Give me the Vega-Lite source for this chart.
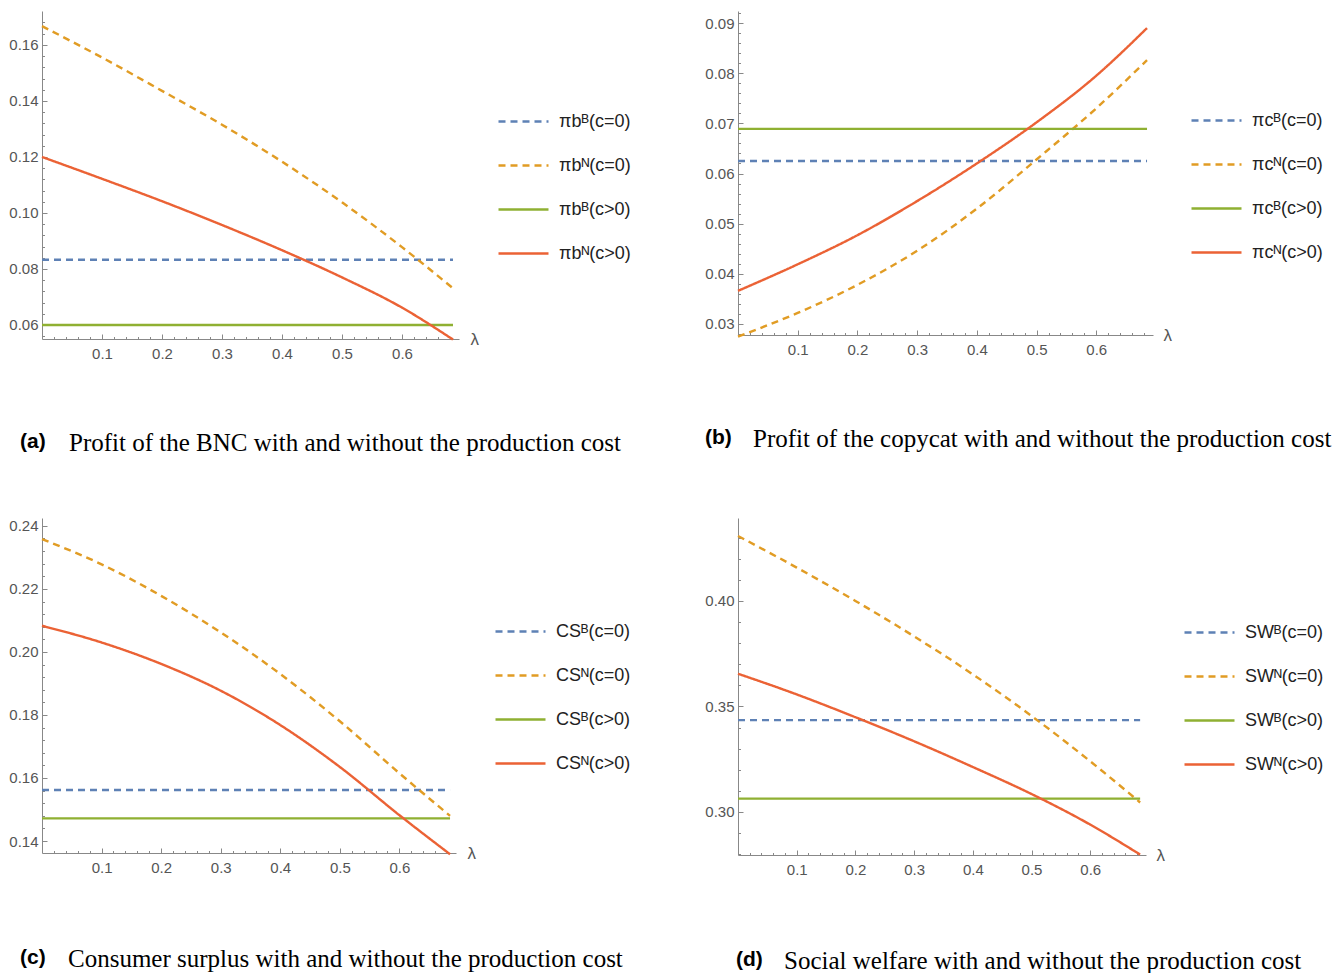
{
  "$schema": "https://vega.github.io/schema/vega-lite/v6.json",
  "padding": {"left": 8, "top": 6, "right": 0, "bottom": 0},
  "background": "white",
  "config": {
    "view": {"stroke": null},
    "axis": {"grid": false, "domainColor": "#888", "tickColor": "#888", "labelColor": "#555", "labelFont": "Liberation Sans", "labelFontSize": 15, "labelOverlap": false, "labelFlush": false, "labelBound": false},
    "legend": {"title": null, "orient": "none", "symbolType": "M-2,0H2", "symbolSize": 625, "symbolStrokeWidth": 2.3, "labelFont": "Liberation Sans", "labelFontSize": 18, "labelColor": "#222", "labelOffset": 21.5, "rowPadding": 21, "padding": 0},
    "title": {"orient": "bottom", "anchor": "start", "frame": "group", "offset": 67, "font": "Liberation Sans", "fontSize": 21, "fontWeight": "bold", "color": "#000"}
  },
  "columns": 2,
  "spacing": {"row": 62, "column": 72},
  "resolve": {"scale": {"color": "independent", "strokeDash": "independent"}},
  "concat": [
    {
      "title": {"text": "Profit of the BNC with and without the production cost", "font": "Liberation Serif", "fontSize": 25, "fontWeight": "normal", "dx": 27, "dy": -21, "offset": 0},
      "vconcat": [{
      "width": 417, "height": 328,
      "title": {"text": "(a)", "dx": -22},
      "data": {"values": [
        {"s": "πbᴮ(c=0)", "lam": 0, "v": 0.0833}, {"s": "πbᴮ(c=0)", "lam": 0.685, "v": 0.0833},
        {"s": "πbᴺ(c=0)", "lam": 0, "v": 0.1667}, {"s": "πbᴺ(c=0)", "lam": 0.1, "v": 0.1555}, {"s": "πbᴺ(c=0)", "lam": 0.2, "v": 0.1436}, {"s": "πbᴺ(c=0)", "lam": 0.3, "v": 0.1315}, {"s": "πbᴺ(c=0)", "lam": 0.4, "v": 0.1183}, {"s": "πbᴺ(c=0)", "lam": 0.5, "v": 0.1038}, {"s": "πbᴺ(c=0)", "lam": 0.6, "v": 0.0878}, {"s": "πbᴺ(c=0)", "lam": 0.685, "v": 0.0731},
        {"s": "πbᴮ(c>0)", "lam": 0, "v": 0.06}, {"s": "πbᴮ(c>0)", "lam": 0.685, "v": 0.06},
        {"s": "πbᴺ(c>0)", "lam": 0, "v": 0.1200}, {"s": "πbᴺ(c>0)", "lam": 0.1, "v": 0.1122}, {"s": "πbᴺ(c>0)", "lam": 0.2, "v": 0.1042}, {"s": "πbᴺ(c>0)", "lam": 0.3, "v": 0.0957}, {"s": "πbᴺ(c>0)", "lam": 0.4, "v": 0.0867}, {"s": "πbᴺ(c>0)", "lam": 0.5, "v": 0.0770}, {"s": "πbᴺ(c>0)", "lam": 0.6, "v": 0.0662}, {"s": "πbᴺ(c>0)", "lam": 0.685, "v": 0.0548}
      ]},
      "mark": {"type": "line", "interpolate": "monotone", "strokeWidth": 2.4},
      "encoding": {
        "x": {"field": "lam", "type": "quantitative", "scale": {"domain": [0, 0.695], "nice": false, "zero": false},
          "axis": {"title": "λ", "titleX": 428, "titleY": 0, "titleAlign": "left", "titleBaseline": "middle", "titleAngle": 0, "titleFont": "Liberation Sans", "titleFontSize": 17, "titleFontWeight": "normal", "titleColor": "#555",
            "values": [0.02,0.04,0.06,0.08,0.1,0.12,0.14,0.16,0.18,0.2,0.22,0.24,0.26,0.28,0.3,0.32,0.34,0.36,0.38,0.4,0.42,0.44,0.46,0.48,0.5,0.52,0.54,0.56,0.58,0.6,0.62,0.64,0.66,0.68],
            "labelExpr": "abs(datum.value*10-round(datum.value*10))<0.001 ? format(datum.value,'.1f') : ''",
            "tickSize": {"condition": {"test": "abs(datum.value*10-round(datum.value*10))<0.001", "value": -5}, "value": -2.5},
            "labelPadding": 12}},
        "y": {"field": "v", "type": "quantitative", "scale": {"domain": [0.055, 0.1721], "nice": false, "zero": false},
          "axis": {"title": null,
            "values": [0.056,0.06,0.064,0.068,0.072,0.076,0.08,0.084,0.088,0.092,0.096,0.1,0.104,0.108,0.112,0.116,0.12,0.124,0.128,0.132,0.136,0.14,0.144,0.148,0.152,0.156,0.16,0.164,0.168],
            "labelExpr": "abs(datum.value*50-round(datum.value*50))<0.001 ? format(datum.value,'.2f') : ''",
            "tickSize": {"condition": {"test": "abs(datum.value*50-round(datum.value*50))<0.001", "value": -5}, "value": -2.5},
            "labelPadding": 9}},
        "color": {"field": "s", "type": "nominal", "scale": {"domain": ["πbᴮ(c=0)", "πbᴺ(c=0)", "πbᴮ(c>0)", "πbᴺ(c>0)"], "range": ["#5E81B5", "#E19C24", "#8FB032", "#EB6235"]},
          "legend": {"legendX": 467.5, "legendY": 96.5}},
        "strokeDash": {"field": "s", "type": "nominal", "scale": {"domain": ["πbᴮ(c=0)", "πbᴺ(c=0)", "πbᴮ(c>0)", "πbᴺ(c>0)"], "range": [[7,5],[7,5],[1,0],[1,0]]},
          "legend": {"legendX": 467.5, "legendY": 96.5}}
      }
      }]
    },
    {
      "title": {"text": "Profit of the copycat with and without the production cost", "font": "Liberation Serif", "fontSize": 25, "fontWeight": "normal", "dx": 15, "dy": -21, "offset": 0},
      "vconcat": [{
      "width": 415, "height": 324,
      "title": {"text": "(b)", "dx": -33},
      "data": {"values": [
        {"s": "πcᴮ(c=0)", "lam": 0, "v": 0.0625}, {"s": "πcᴮ(c=0)", "lam": 0.685, "v": 0.0625},
        {"s": "πcᴺ(c=0)", "lam": 0, "v": 0.0275}, {"s": "πcᴺ(c=0)", "lam": 0.1, "v": 0.0322}, {"s": "πcᴺ(c=0)", "lam": 0.2, "v": 0.0378}, {"s": "πcᴺ(c=0)", "lam": 0.3, "v": 0.0446}, {"s": "πcᴺ(c=0)", "lam": 0.4, "v": 0.0530}, {"s": "πcᴺ(c=0)", "lam": 0.5, "v": 0.0628}, {"s": "πcᴺ(c=0)", "lam": 0.6, "v": 0.0730}, {"s": "πcᴺ(c=0)", "lam": 0.685, "v": 0.0826},
        {"s": "πcᴮ(c>0)", "lam": 0, "v": 0.0689}, {"s": "πcᴮ(c>0)", "lam": 0.685, "v": 0.0689},
        {"s": "πcᴺ(c>0)", "lam": 0, "v": 0.0366}, {"s": "πcᴺ(c>0)", "lam": 0.1, "v": 0.0419}, {"s": "πcᴺ(c>0)", "lam": 0.2, "v": 0.0477}, {"s": "πcᴺ(c>0)", "lam": 0.3, "v": 0.0545}, {"s": "πcᴺ(c>0)", "lam": 0.4, "v": 0.0620}, {"s": "πcᴺ(c>0)", "lam": 0.5, "v": 0.0702}, {"s": "πcᴺ(c>0)", "lam": 0.6, "v": 0.0795}, {"s": "πcᴺ(c>0)", "lam": 0.685, "v": 0.0890}
      ]},
      "mark": {"type": "line", "interpolate": "monotone", "strokeWidth": 2.4},
      "encoding": {
        "x": {"field": "lam", "type": "quantitative", "scale": {"domain": [0, 0.695], "nice": false, "zero": false},
          "axis": {"title": "λ", "titleX": 425, "titleY": 0, "titleAlign": "left", "titleBaseline": "middle", "titleAngle": 0, "titleFont": "Liberation Sans", "titleFontSize": 17, "titleFontWeight": "normal", "titleColor": "#555",
            "values": [0.02,0.04,0.06,0.08,0.1,0.12,0.14,0.16,0.18,0.2,0.22,0.24,0.26,0.28,0.3,0.32,0.34,0.36,0.38,0.4,0.42,0.44,0.46,0.48,0.5,0.52,0.54,0.56,0.58,0.6,0.62,0.64,0.66,0.68],
            "labelExpr": "abs(datum.value*10-round(datum.value*10))<0.001 ? format(datum.value,'.1f') : ''",
            "tickSize": {"condition": {"test": "abs(datum.value*10-round(datum.value*10))<0.001", "value": -5}, "value": -2.5},
            "labelPadding": 12}},
        "y": {"field": "v", "type": "quantitative", "scale": {"domain": [0.0278, 0.0924], "nice": false, "zero": false},
          "axis": {"title": null,
            "values": [0.028,0.03,0.032,0.034,0.036,0.038,0.04,0.042,0.044,0.046,0.048,0.05,0.052,0.054,0.056,0.058,0.06,0.062,0.064,0.066,0.068,0.07,0.072,0.074,0.076,0.078,0.08,0.082,0.084,0.086,0.088,0.09,0.092],
            "labelExpr": "abs(datum.value*100-round(datum.value*100))<0.001 ? format(datum.value,'.2f') : ''",
            "tickSize": {"condition": {"test": "abs(datum.value*100-round(datum.value*100))<0.001", "value": -5}, "value": -2.5},
            "labelPadding": 9}},
        "color": {"field": "s", "type": "nominal", "scale": {"domain": ["πcᴮ(c=0)", "πcᴺ(c=0)", "πcᴮ(c>0)", "πcᴺ(c>0)"], "range": ["#5E81B5", "#E19C24", "#8FB032", "#EB6235"]},
          "legend": {"legendX": 464.5, "legendY": 95.5}},
        "strokeDash": {"field": "s", "type": "nominal", "scale": {"domain": ["πcᴮ(c=0)", "πcᴺ(c=0)", "πcᴮ(c>0)", "πcᴺ(c>0)"], "range": [[7,5],[7,5],[1,0],[1,0]]},
          "legend": {"legendX": 464.5, "legendY": 95.5}}
      }
      }]
    },
    {
      "title": {"text": "Consumer surplus with and without the production cost", "font": "Liberation Serif", "fontSize": 25, "fontWeight": "normal", "dx": 26, "dy": -21, "offset": 0},
      "vconcat": [{
      "width": 414, "height": 335,
      "title": {"text": "(c)", "dx": -22, "offset": 69},
      "data": {"values": [
        {"s": "CSᴮ(c=0)", "lam": 0, "v": 0.1562}, {"s": "CSᴮ(c=0)", "lam": 0.685, "v": 0.1562},
        {"s": "CSᴺ(c=0)", "lam": 0, "v": 0.2358}, {"s": "CSᴺ(c=0)", "lam": 0.1, "v": 0.2278}, {"s": "CSᴺ(c=0)", "lam": 0.2, "v": 0.2178}, {"s": "CSᴺ(c=0)", "lam": 0.3, "v": 0.2062}, {"s": "CSᴺ(c=0)", "lam": 0.4, "v": 0.1930}, {"s": "CSᴺ(c=0)", "lam": 0.5, "v": 0.1780}, {"s": "CSᴺ(c=0)", "lam": 0.6, "v": 0.1615}, {"s": "CSᴺ(c=0)", "lam": 0.685, "v": 0.1480},
        {"s": "CSᴮ(c>0)", "lam": 0, "v": 0.1472}, {"s": "CSᴮ(c>0)", "lam": 0.685, "v": 0.1472},
        {"s": "CSᴺ(c>0)", "lam": 0, "v": 0.2083}, {"s": "CSᴺ(c>0)", "lam": 0.1, "v": 0.2030}, {"s": "CSᴺ(c>0)", "lam": 0.2, "v": 0.1962}, {"s": "CSᴺ(c>0)", "lam": 0.3, "v": 0.1877}, {"s": "CSᴺ(c>0)", "lam": 0.4, "v": 0.1768}, {"s": "CSᴺ(c>0)", "lam": 0.5, "v": 0.1635}, {"s": "CSᴺ(c>0)", "lam": 0.6, "v": 0.1482}, {"s": "CSᴺ(c>0)", "lam": 0.685, "v": 0.1358}
      ]},
      "mark": {"type": "line", "interpolate": "monotone", "strokeWidth": 2.4},
      "encoding": {
        "x": {"field": "lam", "type": "quantitative", "scale": {"domain": [0, 0.695], "nice": false, "zero": false},
          "axis": {"title": "λ", "titleX": 425, "titleY": 0, "titleAlign": "left", "titleBaseline": "middle", "titleAngle": 0, "titleFont": "Liberation Sans", "titleFontSize": 17, "titleFontWeight": "normal", "titleColor": "#555",
            "values": [0.02,0.04,0.06,0.08,0.1,0.12,0.14,0.16,0.18,0.2,0.22,0.24,0.26,0.28,0.3,0.32,0.34,0.36,0.38,0.4,0.42,0.44,0.46,0.48,0.5,0.52,0.54,0.56,0.58,0.6,0.62,0.64,0.66,0.68],
            "labelExpr": "abs(datum.value*10-round(datum.value*10))<0.001 ? format(datum.value,'.1f') : ''",
            "tickSize": {"condition": {"test": "abs(datum.value*10-round(datum.value*10))<0.001", "value": -5}, "value": -2.5},
            "labelPadding": 12}},
        "y": {"field": "v", "type": "quantitative", "scale": {"domain": [0.1362, 0.2425], "nice": false, "zero": false},
          "axis": {"title": null,
            "values": [0.14,0.144,0.148,0.152,0.156,0.16,0.164,0.168,0.172,0.176,0.18,0.184,0.188,0.192,0.196,0.2,0.204,0.208,0.212,0.216,0.22,0.224,0.228,0.232,0.236,0.24],
            "labelExpr": "abs(datum.value*50-round(datum.value*50))<0.001 ? format(datum.value,'.2f') : ''",
            "tickSize": {"condition": {"test": "abs(datum.value*50-round(datum.value*50))<0.001", "value": -5}, "value": -2.5},
            "labelPadding": 9}},
        "color": {"field": "s", "type": "nominal", "scale": {"domain": ["CSᴮ(c=0)", "CSᴺ(c=0)", "CSᴮ(c>0)", "CSᴺ(c>0)"], "range": ["#5E81B5", "#E19C24", "#8FB032", "#EB6235"]},
          "legend": {"legendX": 464.5, "legendY": 99.5}},
        "strokeDash": {"field": "s", "type": "nominal", "scale": {"domain": ["CSᴮ(c=0)", "CSᴺ(c=0)", "CSᴮ(c>0)", "CSᴺ(c>0)"], "range": [[7,5],[7,5],[1,0],[1,0]]},
          "legend": {"legendX": 464.5, "legendY": 99.5}}
      }
      }]
    },
    {
      "title": {"text": "Social welfare with and without the production cost", "font": "Liberation Serif", "fontSize": 25, "fontWeight": "normal", "dx": 46, "dy": -21, "offset": 0},
      "vconcat": [{
      "width": 408, "height": 337,
      "title": {"text": "(d)", "dx": -2, "offset": 69},
      "data": {"values": [
        {"s": "SWᴮ(c=0)", "lam": 0, "v": 0.3435}, {"s": "SWᴮ(c=0)", "lam": 0.685, "v": 0.3435},
        {"s": "SWᴺ(c=0)", "lam": 0, "v": 0.4308}, {"s": "SWᴺ(c=0)", "lam": 0.1, "v": 0.4158}, {"s": "SWᴺ(c=0)", "lam": 0.2, "v": 0.4000}, {"s": "SWᴺ(c=0)", "lam": 0.3, "v": 0.3832}, {"s": "SWᴺ(c=0)", "lam": 0.4, "v": 0.3652}, {"s": "SWᴺ(c=0)", "lam": 0.5, "v": 0.3455}, {"s": "SWᴺ(c=0)", "lam": 0.6, "v": 0.3240}, {"s": "SWᴺ(c=0)", "lam": 0.685, "v": 0.3045},
        {"s": "SWᴮ(c>0)", "lam": 0, "v": 0.3063}, {"s": "SWᴮ(c>0)", "lam": 0.685, "v": 0.3063},
        {"s": "SWᴺ(c>0)", "lam": 0, "v": 0.3655}, {"s": "SWᴺ(c>0)", "lam": 0.1, "v": 0.3557}, {"s": "SWᴺ(c>0)", "lam": 0.2, "v": 0.3449}, {"s": "SWᴺ(c>0)", "lam": 0.3, "v": 0.3335}, {"s": "SWᴺ(c>0)", "lam": 0.4, "v": 0.3213}, {"s": "SWᴺ(c>0)", "lam": 0.5, "v": 0.3085}, {"s": "SWᴺ(c>0)", "lam": 0.6, "v": 0.2940}, {"s": "SWᴺ(c>0)", "lam": 0.685, "v": 0.2798}
      ]},
      "mark": {"type": "line", "interpolate": "monotone", "strokeWidth": 2.4},
      "encoding": {
        "x": {"field": "lam", "type": "quantitative", "scale": {"domain": [0, 0.695], "nice": false, "zero": false},
          "axis": {"title": "λ", "titleX": 418, "titleY": 0, "titleAlign": "left", "titleBaseline": "middle", "titleAngle": 0, "titleFont": "Liberation Sans", "titleFontSize": 17, "titleFontWeight": "normal", "titleColor": "#555",
            "values": [0.02,0.04,0.06,0.08,0.1,0.12,0.14,0.16,0.18,0.2,0.22,0.24,0.26,0.28,0.3,0.32,0.34,0.36,0.38,0.4,0.42,0.44,0.46,0.48,0.5,0.52,0.54,0.56,0.58,0.6,0.62,0.64,0.66,0.68],
            "labelExpr": "abs(datum.value*10-round(datum.value*10))<0.001 ? format(datum.value,'.1f') : ''",
            "tickSize": {"condition": {"test": "abs(datum.value*10-round(datum.value*10))<0.001", "value": -5}, "value": -2.5},
            "labelPadding": 12}},
        "y": {"field": "v", "type": "quantitative", "scale": {"domain": [0.2796, 0.4393], "nice": false, "zero": false},
          "axis": {"title": null,
            "values": [0.28,0.29,0.3,0.31,0.32,0.33,0.34,0.35,0.36,0.37,0.38,0.39,0.4,0.41,0.42,0.43],
            "labelExpr": "abs(datum.value*20-round(datum.value*20))<0.001 ? format(datum.value,'.2f') : ''",
            "tickSize": {"condition": {"test": "abs(datum.value*20-round(datum.value*20))<0.001", "value": -5}, "value": -2.5},
            "labelPadding": 9}},
        "color": {"field": "s", "type": "nominal", "scale": {"domain": ["SWᴮ(c=0)", "SWᴺ(c=0)", "SWᴮ(c>0)", "SWᴺ(c>0)"], "range": ["#5E81B5", "#E19C24", "#8FB032", "#EB6235"]},
          "legend": {"legendX": 457.5, "legendY": 100.5}},
        "strokeDash": {"field": "s", "type": "nominal", "scale": {"domain": ["SWᴮ(c=0)", "SWᴺ(c=0)", "SWᴮ(c>0)", "SWᴺ(c>0)"], "range": [[7,5],[7,5],[1,0],[1,0]]},
          "legend": {"legendX": 457.5, "legendY": 100.5}}
      }
      }]
    }
  ]
}
